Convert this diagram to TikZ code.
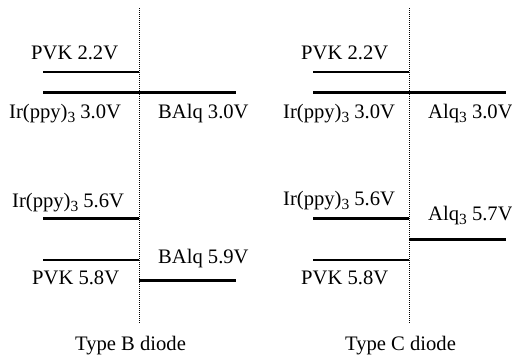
\documentclass[tikz,border=0pt]{standalone}
\usepackage{fontspec}
\setmainfont{Liberation Serif}
\newcommand{\mysubthree}{\raisebox{-0.2em}{\fontsize{15.5}{16}\selectfont 3}}
\begin{document}
\begin{tikzpicture}[x=1pt,y=-1pt,
  lbl/.style={anchor=base west,inner sep=0pt,font=\fontsize{20.6}{24}\selectfont},
  thinlvl/.style={line width=1.5pt},
  thicklvl/.style={line width=3pt},
  divider/.style={line width=0.9pt,dash pattern=on 0.9pt off 1.1pt}]
\useasboundingbox (0,0) rectangle (512,356);
% ---------- Type B ----------
\coordinate (bTop) at (139,8);
\coordinate (bBot) at (139,323);
\draw[divider] (bTop) -- (bBot);
\coordinate (bP1a) at (43,72);  \coordinate (bP1b) at (139,72);
\coordinate (bI1a) at (43,92);  \coordinate (bI1b) at (236,92);
\coordinate (bI2a) at (43,218); \coordinate (bI2b) at (139,218);
\coordinate (bP2a) at (43,260); \coordinate (bP2b) at (139,260);
\coordinate (bB2a) at (139,280); \coordinate (bB2b) at (236,280);
\draw[thinlvl] (bP1a) -- (bP1b);
\draw[thicklvl] (bI1a) -- (bI1b);
\draw[thicklvl] (bI2a) -- (bI2b);
\draw[thinlvl] (bP2a) -- (bP2b);
\draw[thicklvl] (bB2a) -- (bB2b);
\node[lbl] (bPVK1) at (31,59) {PVK 2.2V};
\node[lbl] (bIr1) at (9,118) {Ir(ppy)\mysubthree\ 3.0V};
\node[lbl] (bBA1) at (158,118) {BAlq 3.0V};
\node[lbl] (bIr2) at (12,207) {Ir(ppy)\mysubthree\ 5.6V};
\node[lbl] (bPVK2) at (32,284) {PVK 5.8V};
\node[lbl] (bBA2) at (158,263) {BAlq 5.9V};
\node[lbl] (bTitle) at (75,350) {Type B diode};
% ---------- Type C ----------
\coordinate (cTop) at (409,8);
\coordinate (cBot) at (409,323);
\draw[divider] (cTop) -- (cBot);
\coordinate (cP1a) at (313,72);  \coordinate (cP1b) at (409,72);
\coordinate (cI1a) at (313,92);  \coordinate (cI1b) at (506,92);
\coordinate (cI2a) at (313,218); \coordinate (cI2b) at (409,218);
\coordinate (cP2a) at (313,260); \coordinate (cP2b) at (409,260);
\coordinate (cA2a) at (409,239); \coordinate (cA2b) at (506,239);
\draw[thinlvl] (cP1a) -- (cP1b);
\draw[thicklvl] (cI1a) -- (cI1b);
\draw[thicklvl] (cI2a) -- (cI2b);
\draw[thinlvl] (cP2a) -- (cP2b);
\draw[thicklvl] (cA2a) -- (cA2b);
\node[lbl] (cPVK1) at (301,59) {PVK 2.2V};
\node[lbl] (cIr1) at (283,118) {Ir(ppy)\mysubthree\ 3.0V};
\node[lbl] (cAl1) at (428,118) {Alq\mysubthree\ 3.0V};
\node[lbl] (cIr2) at (283,205) {Ir(ppy)\mysubthree\ 5.6V};
\node[lbl] (cPVK2) at (301,284) {PVK 5.8V};
\node[lbl] (cAl2) at (428,220) {Alq\mysubthree\ 5.7V};
\node[lbl] (cTitle) at (345,350) {Type C diode};
\end{tikzpicture}
\end{document}
